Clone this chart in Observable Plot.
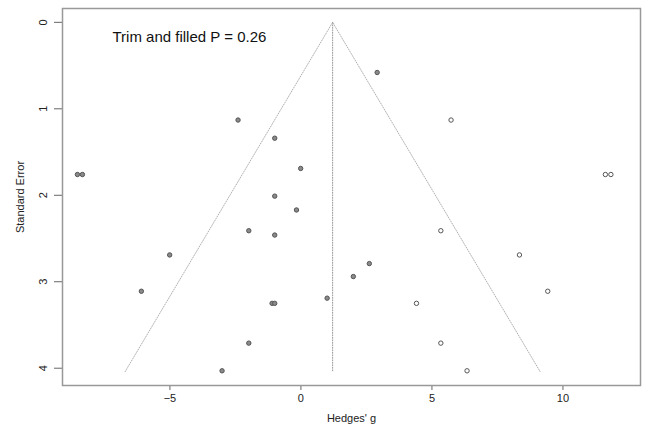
<!DOCTYPE html>
<html>
<head>
<meta charset="utf-8">
<script src="https://cdn.jsdelivr.net/npm/d3@7"></script>
<script src="https://cdn.jsdelivr.net/npm/@observablehq/plot@0.6"></script>
<style>
  html, body { margin: 0; padding: 0; background: #fff; }
  #chart { width: 645px; height: 431px; }
</style>
</head>
<body>
<div id="chart"></div>
<script>
// Observed studies (Hedges' g, standard error)
const observedG  = [2.91, -2.40, -1.00, -0.01, -1.00, -0.17, -1.99, -1.00, 2.61, 2.00, -1.10, -1.00, 1.00, -1.99, -3.01, -5.01, -6.09, -8.53, -8.34];
const observedSE = [0.58, 1.13, 1.34, 1.69, 2.01, 2.17, 2.41, 2.46, 2.79, 2.94, 3.25, 3.25, 3.19, 3.71, 4.03, 2.69, 3.11, 1.76, 1.76];
// Imputed (filled) studies
const filledG  = [4.41, 5.73, 11.62, 11.83, 5.34, 8.34, 9.42, 5.34, 6.34];
const filledSE = [3.25, 1.13, 1.76, 1.76, 2.41, 2.69, 3.11, 3.71, 4.03];
// Funnel outline (pseudo 95% limits) and centre line
const funnelG  = [-6.71, 1.21, 9.13];
const funnelSE = [4.04, 0, 4.04];
const centreG  = [1.21, 1.21];
const centreSE = [0, 4.04];
// Ticks and texts
const xTicks = [-5, 0, 5, 10];
const yTicks = [0, 1, 2, 3, 4];
const annotation = "Trim and filled P = 0.26";
const xLabel = "Hedges' g";
const yLabel = "Standard Error";

const observed = observedG.map((g, i) => ({g, se: observedSE[i]}));
const filled = filledG.map((g, i) => ({g, se: filledSE[i]}));
const funnel = funnelG.map((g, i) => ({g, se: funnelSE[i]}));
const centre = centreG.map((g, i) => ({g, se: centreSE[i]}));

const chart = Plot.plot({
  width: 645,
  height: 431,
  marginLeft: 62,
  marginRight: 5,
  marginTop: 8,
  marginBottom: 46,
  style: {fontFamily: "'Liberation Sans', Arial, sans-serif", fontSize: "11px", color: "#222", background: "#fff"},
  x: {domain: [-9.1, 12.96]},
  y: {domain: [-0.16, 4.2], reverse: true},
  marks: [
    Plot.line(funnel, {x: "g", y: "se", stroke: "#b0b0b0", strokeWidth: 1, strokeDasharray: "1,1.5"}),
    Plot.line(centre, {x: "g", y: "se", stroke: "#999", strokeWidth: 1, strokeDasharray: "1,1.5"}),
    Plot.dot(observed, {x: "g", y: "se", r: 2.2, fill: "#8a8a8a", stroke: "#555", strokeWidth: 1}),
    Plot.dot(filled, {x: "g", y: "se", r: 2.2, fill: "#fff", stroke: "#555", strokeWidth: 1}),
    Plot.axisX({ticks: xTicks, tickSize: 5, tickPadding: 4, tickFormat: d => d < 0 ? "\u2212" + Math.abs(d) : String(d), fontSize: 11, stroke: "#666",
      label: xLabel, labelAnchor: "center", labelArrow: "none", labelOffset: 36}),
    Plot.axisY({ticks: yTicks, tickSize: 8, tickPadding: 8, tickRotate: -90, tickFormat: d => String(d), fontSize: 11, stroke: "#666",
      label: yLabel, labelAnchor: "center", labelArrow: "none", labelOffset: 46}),
    Plot.frame({stroke: "#999", strokeWidth: 1.5}),
    Plot.text([annotation], {frameAnchor: "top-left", dx: 50, dy: 29, textAnchor: "start", lineAnchor: "middle", fontSize: 15, fill: "#111"})
  ]
});
document.getElementById("chart").appendChild(chart);
</script>
</body>
</html>
